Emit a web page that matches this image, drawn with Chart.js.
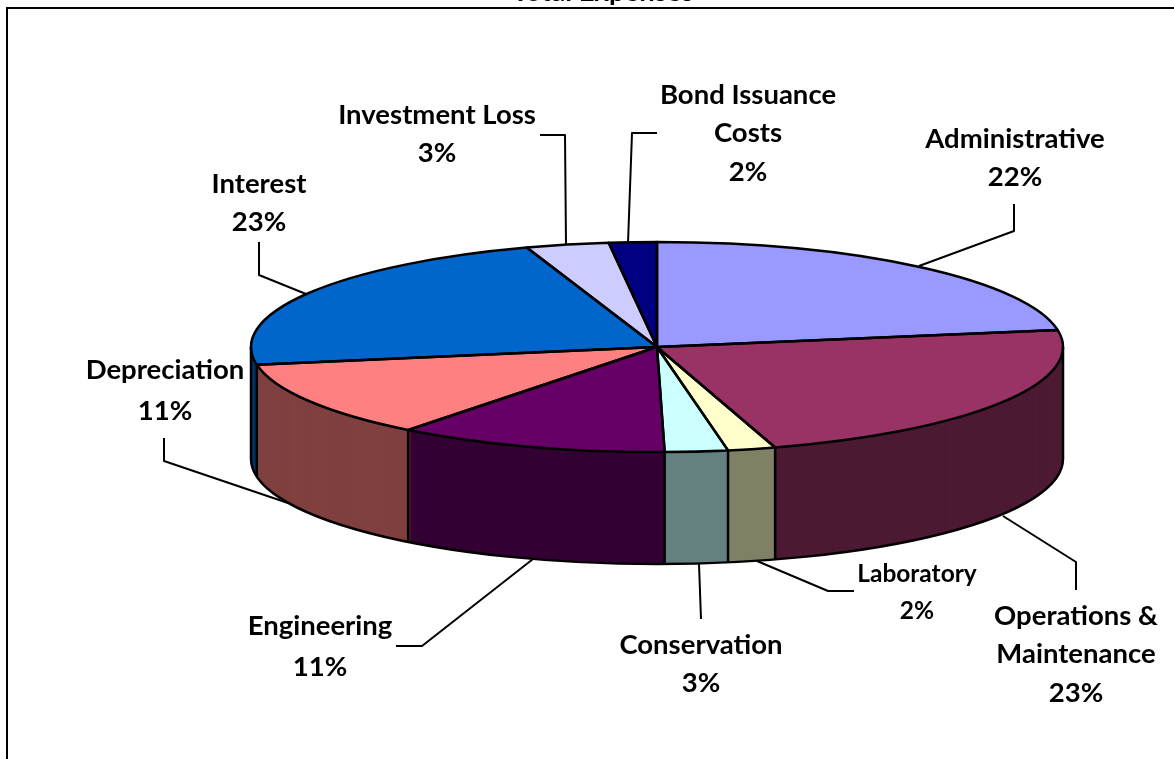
<!DOCTYPE html>
<html>
<head>
<meta charset="utf-8">
<title>Total Expenses</title>
<script src="https://cdn.jsdelivr.net/npm/chart.js@4"></script>
<style>
  html, body { margin: 0; padding: 0; background: #fff; }
  canvas { display: block; }
</style>
</head>
<body>
<canvas id="myChart" width="1174" height="759"></canvas>
<script>
const labelLines = [
  ['Administrative'],
  ['Operations &', 'Maintenance'],
  ['Laboratory'],
  ['Conservation'],
  ['Engineering'],
  ['Depreciation'],
  ['Interest'],
  ['Investment Loss'],
  ['Bond Issuance', 'Costs'],
];
const categories = labelLines.map(l => l.join(' '));
const values = [22.4, 22.9, 1.9, 2.5, 10.8, 11.8, 22.5, 3.3, 1.9];
const percents = ['22%', '23%', '2%', '3%', '11%', '11%', '23%', '3%', '2%'];
const topColors = ['#9999FF', '#993366', '#FFFFCC', '#CCFFFF', '#660066', '#FF8080', '#0066CC', '#CCCCFF', '#000080'];
const wallColors = ['#4D4D80', '#4D1A33', '#808066', '#668080', '#330033', '#804040', '#003366', '#666680', '#000040'];

// where the flattened pie sits on the page
const pie = { x: 657, y: 347, rx: 406, ry: 105, depth: 112 };

// label centres, in category order
const labelPos = [
  { x: 1015, y: 139 }, { x: 1076, y: 616 }, { x: 917, y: 574, size: 24.5, gap: 37 },
  { x: 701, y: 645 }, { x: 320, y: 626, gap: 41 }, { x: 165, y: 370, gap: 41 },
  { x: 259, y: 184 }, { x: 437, y: 115 }, { x: 748, y: 95 },
];
const leaders = [
  [[1014, 204], [1014, 231], [919, 266]],
  [[1076, 590], [1076, 562], [1003, 516]],
  [[854, 591], [828, 591], [757, 561]],
  [[701, 619], [699, 564]],
  [[396, 646], [422, 646], [533, 559]],
  [[164, 438], [164, 461], [288, 503]],
  [[259, 242], [259, 275], [306, 294]],
  [[540, 135], [565, 135], [566, 244]],
  [[657, 133], [632, 133], [628, 243]],
];
const FONT = 'Lato, sans-serif';

function flatten(ctx, el, dy) {
  const k = el.outerRadius;
  ctx.translate(pie.x, pie.y + dy);
  ctx.scale(pie.rx / k, pie.ry / k);
  ctx.translate(-el.x, -el.y);
}

const pie3d = {
  id: 'pie3d',
  beforeDraw(chart) {
    const ctx = chart.ctx;
    ctx.save();
    ctx.fillStyle = '#000';
    ctx.font = 'bold 27.5px ' + FONT;
    ctx.textAlign = 'center';
    ctx.fillText('Total Expenses', 603, 1);
    ctx.strokeStyle = '#000';
    ctx.lineWidth = 2;
    ctx.beginPath();
    ctx.moveTo(7, chart.height);
    ctx.lineTo(7, 8);
    ctx.lineTo(chart.width, 8);
    ctx.stroke();
    ctx.restore();
  },
  beforeDatasetsDraw(chart) {
    const ctx = chart.ctx;
    const arcs = chart.getDatasetMeta(0).data;
    // side wall: the slices stacked downwards in their darker colour
    for (let d = pie.depth; d >= 1; d--) {
      arcs.forEach((el, i) => {
        const saved = el.options;
        el.options = { ...saved, backgroundColor: wallColors[i], borderWidth: 0 };
        ctx.save();
        flatten(ctx, el, d);
        el.draw(ctx);
        ctx.restore();
        el.options = saved;
      });
    }
    ctx.save();
    flatten(ctx, arcs[0], 0);
  },
  afterDatasetsDraw(chart) {
    const ctx = chart.ctx;
    ctx.restore();
    const arcs = chart.getDatasetMeta(0).data;
    ctx.save();
    ctx.strokeStyle = '#000';
    ctx.lineWidth = 2.5;
    ctx.lineJoin = 'round';
    // wall outline
    ctx.beginPath();
    ctx.moveTo(pie.x - pie.rx, pie.y);
    ctx.lineTo(pie.x - pie.rx, pie.y + pie.depth);
    ctx.ellipse(pie.x, pie.y + pie.depth, pie.rx, pie.ry, 0, Math.PI, 0, true);
    ctx.lineTo(pie.x + pie.rx, pie.y);
    ctx.stroke();
    // wall seams at the slice edges on the front half
    arcs.forEach(el => {
      const s = Math.sin(el.startAngle);
      if (s > 0) {
        const x = pie.x + pie.rx * Math.cos(el.startAngle);
        const y = pie.y + pie.ry * s;
        ctx.beginPath();
        ctx.moveTo(x, y);
        ctx.lineTo(x, y + pie.depth);
        ctx.stroke();
      }
    });
    // slice outlines on the top face
    arcs.forEach(el => {
      ctx.beginPath();
      ctx.moveTo(pie.x, pie.y);
      ctx.ellipse(pie.x, pie.y, pie.rx, pie.ry, 0, el.startAngle, el.endAngle);
      ctx.closePath();
      ctx.stroke();
    });
    // leader lines
    ctx.lineWidth = 2;
    leaders.forEach(pts => {
      ctx.beginPath();
      pts.forEach(([x, y], i) => (i ? ctx.lineTo(x, y) : ctx.moveTo(x, y)));
      ctx.stroke();
    });
    // labels
    ctx.fillStyle = '#000';
    ctx.textAlign = 'center';
    ctx.textBaseline = 'middle';
    labelLines.forEach((lines, i) => {
      const p = labelPos[i];
      const gap = p.gap || 38.5;
      ctx.font = 'bold ' + (p.size || 27.5) + 'px ' + FONT;
      lines.concat(percents[i]).forEach((t, j) => ctx.fillText(t, p.x, p.y + j * gap));
    });
    ctx.restore();
  },
};

new Chart(document.getElementById('myChart').getContext('2d'), {
  type: 'pie',
  data: {
    labels: categories,
    datasets: [{
      data: values,
      backgroundColor: topColors,
      borderWidth: 0,
    }],
  },
  options: {
    responsive: false,
    animation: false,
    layout: { padding: 0 },
    plugins: { legend: { display: false }, tooltip: { enabled: false } },
  },
  plugins: [pie3d],
});
</script>
</body>
</html>
